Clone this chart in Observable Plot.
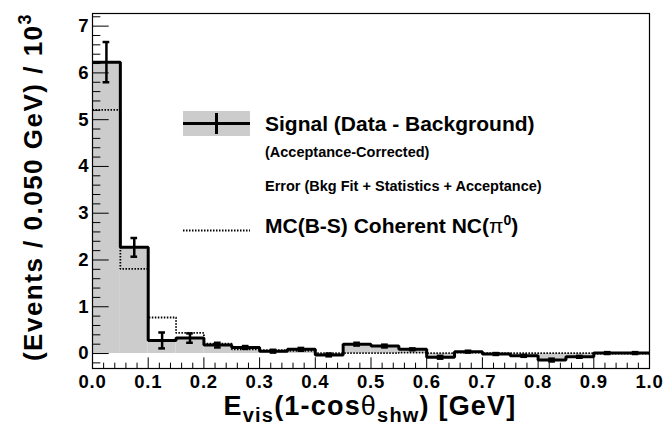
<!DOCTYPE html>
<html><head><meta charset="utf-8">
<script src="https://cdn.jsdelivr.net/npm/d3@7"></script>
<script src="https://cdn.jsdelivr.net/npm/@observablehq/plot@0.6"></script>
<style>body{margin:0;background:#fff;} svg{display:block}</style>
</head><body><div id="chart"></div>
<script>
// ---- data ----
const binLefts = [0.00,0.05,0.10,0.15,0.20,0.25,0.30,0.35,0.40,0.45,0.50,0.55,0.60,0.65,0.70,0.75,0.80,0.85,0.90,0.95];
const binWidth = 0.05;
const signal = [6.23,2.27,0.28,0.33,0.18,0.13,0.05,0.09,-0.03,0.20,0.16,0.09,-0.08,0.04,-0.01,-0.05,-0.14,-0.07,0.01,0.01];
const signalErr = [0.43,0.20,0.17,0.10,0.05,0.03,0.03,0.03,0.03,0.03,0.03,0.02,0.03,0.02,0.02,0.02,0.03,0.02,0.02,0.02];
const mcCoherent = [5.21,1.81,0.77,0.44,0.21,0.09,0.07,0.06,0.01,0.01,0.01,0.02,0.01,0.02,0.01,0.01,0.01,0.01,0.00,0.00];
const xTicks = [0.0,0.1,0.2,0.3,0.4,0.5,0.6,0.7,0.8,0.9,1.0];
const yTicks = [0,1,2,3,4,5,6,7];
const xDomain = [0, 1];
const yDomain = [-0.32, 7.27];

// ---- derived tables ----
const bins = binLefts.map((x0, i) => ({x0, x1: x0 + binWidth, xc: x0 + binWidth / 2, s: signal[i], e: signalErr[i], mc: mcCoherent[i]}));
const stepSignal = bins.map(b => ({x: b.x0, y: b.s})).concat([{x: xDomain[1], y: signal[signal.length - 1]}]);
const stepMC = bins.map(b => ({x: b.x0, y: b.mc})).concat([{x: xDomain[1], y: mcCoherent[mcCoherent.length - 1]}]);
const xSpan = xDomain[1] - xDomain[0], ySpan = yDomain[1] - yDomain[0];
const cap = 0.006 * xSpan;
const yMinor = d3.range(-1, 37).map(k => k * 0.2).filter(v => v >= yDomain[0] && v <= yDomain[1] && Math.abs(v - Math.round(v)) > 1e-6);
const xMinor = d3.range(0, 51).map(k => k * 0.02).filter(v => Math.abs(v * 10 - Math.round(v * 10)) > 1e-6);

const font = "'Liberation Sans', Arial, Helvetica, sans-serif";
const dots = "1.5,1.5";

const svg = Plot.plot({
  width: 663, height: 425,
  marginLeft: 92, marginRight: 14, marginTop: 13, marginBottom: 57,
  x: {domain: xDomain},
  y: {domain: yDomain},
  style: {fontFamily: font, fontWeight: "bold", background: "white", color: "black"},
  marks: [
    Plot.rectY(bins, {x1: "x0", x2: "x1", y1: 0, y2: "s", fill: "#cccccc"}),
    Plot.line(stepMC, {x: "x", y: "y", curve: "step-after", stroke: "black", strokeWidth: 1.8, strokeDasharray: dots, strokeLinecap: "butt", strokeLinejoin: "miter"}),
    Plot.line(stepSignal, {x: "x", y: "y", curve: "step-after", stroke: "black", strokeWidth: 3, strokeLinecap: "butt", strokeLinejoin: "miter"}),
    Plot.ruleX(bins, {x: "xc", y1: d => d.s - d.e, y2: d => d.s + d.e, stroke: "black", strokeWidth: 2.5}),
    Plot.ruleY(bins, {y: d => d.s - d.e, x1: d => d.xc - cap, x2: d => d.xc + cap, stroke: "black", strokeWidth: 2.5}),
    Plot.ruleY(bins, {y: d => d.s + d.e, x1: d => d.xc - cap, x2: d => d.xc + cap, stroke: "black", strokeWidth: 2.5}),
    // ROOT-style inward ticks (3% / 1.5% of axis length)
    Plot.ruleY(yTicks, {y: d => d, x1: xDomain[0], x2: xDomain[0] + 0.03 * xSpan, stroke: "black", strokeWidth: 1}),
    Plot.ruleY(yMinor, {y: d => d, x1: xDomain[0], x2: xDomain[0] + 0.015 * xSpan, stroke: "black", strokeWidth: 1}),
    Plot.ruleX(xTicks, {x: d => d, y1: yDomain[0], y2: yDomain[0] + 0.03 * ySpan, stroke: "black", strokeWidth: 1}),
    Plot.ruleX(xMinor, {x: d => d, y1: yDomain[0], y2: yDomain[0] + 0.015 * ySpan, stroke: "black", strokeWidth: 1}),
    Plot.frame({stroke: "black", strokeWidth: 1.2}),
    Plot.axisX(xTicks, {tickSize: 0, tickPadding: 6, tickFormat: d3.format(".1f"), fontSize: 18.5, fontWeight: "bold", label: null}),
    Plot.axisY(yTicks, {tickSize: 0, tickPadding: 4, fontSize: 18.5, fontWeight: "bold", label: null})
  ]
});
document.getElementById("chart").appendChild(svg);

const S = d3.select(svg);
S.selectAll('[aria-label="x-axis tick label"] text').attr("letter-spacing", 0.8);

// ---- axis titles ----
const xt = S.append("text").attr("x", 370).attr("y", 415).attr("text-anchor", "middle")
  .attr("font-family", font).attr("font-weight", "bold").attr("font-size", 27).attr("letter-spacing", 1.2).attr("fill", "black");
xt.append("tspan").text("E");
xt.append("tspan").attr("font-size", 20).attr("dy", 7).text("vis");
xt.append("tspan").attr("dy", -7).text("(1-cos");
xt.append("tspan").attr("font-weight", "normal").text("θ");
xt.append("tspan").attr("font-size", 20).attr("dy", 7).text("shw");
xt.append("tspan").attr("dy", -7).text(") [GeV]");

const yt = S.append("text").attr("transform", "translate(42,187) rotate(-90)").attr("text-anchor", "middle")
  .attr("font-family", font).attr("font-weight", "bold").attr("font-size", 26).attr("letter-spacing", 1.5).attr("fill", "black");
yt.append("tspan").text("(Events / 0.050 GeV) / 10");
yt.append("tspan").attr("font-size", 18).attr("dy", -11).text("3");

// ---- legend ----
const L = S.append("g").attr("font-family", font).attr("font-weight", "bold").attr("fill", "black").attr("text-anchor", "start");
L.append("rect").attr("x", 183).attr("y", 111).attr("width", 67).attr("height", 25).attr("fill", "#cccccc");
L.append("line").attr("x1", 183).attr("x2", 250).attr("y1", 123.5).attr("y2", 123.5).attr("stroke", "black").attr("stroke-width", 3);
L.append("line").attr("x1", 216.5).attr("x2", 216.5).attr("y1", 113).attr("y2", 134).attr("stroke", "black").attr("stroke-width", 3);
L.append("text").attr("x", 265).attr("y", 131).attr("font-size", 21).text("Signal (Data - Background)");
L.append("text").attr("x", 265).attr("y", 157).attr("font-size", 14.5).text("(Acceptance-Corrected)");
L.append("text").attr("x", 265).attr("y", 191).attr("font-size", 14.5).text("Error (Bkg Fit + Statistics + Acceptance)");
L.append("line").attr("x1", 183).attr("x2", 250).attr("y1", 230.5).attr("y2", 230.5).attr("stroke", "black").attr("stroke-width", 1.8).attr("stroke-dasharray", dots);
const mt = L.append("text").attr("x", 265).attr("y", 233).attr("font-size", 21);
mt.append("tspan").text("MC(B-S) Coherent NC(");
mt.append("tspan").attr("font-weight", "normal").text("π");
mt.append("tspan").attr("font-size", 14).attr("dy", -8).text("0");
mt.append("tspan").attr("dy", 8).text(")");
</script>
</body></html>
